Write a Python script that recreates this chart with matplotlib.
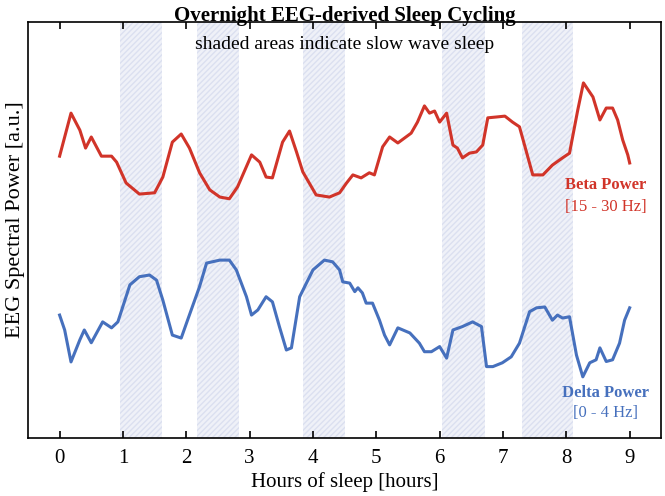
import numpy as np
import matplotlib.pyplot as plt

plt.rcParams["font.family"] = ["Liberation Serif", "DejaVu Serif"]

#
# Data (hours, arbitrary units)
#
beta_hours = [0.00, 0.18, 0.32, 0.41, 0.50, 0.66, 0.82, 0.90, 1.05, 1.26, 1.50, 1.63,
              1.78, 1.92, 2.05, 2.21, 2.37, 2.53, 2.68, 2.81, 3.03, 3.16, 3.26, 3.36,
              3.52, 3.63, 3.74, 3.84, 4.05, 4.26, 4.42, 4.53, 4.63, 4.76, 4.89, 4.97,
              5.10, 5.21, 5.34, 5.55, 5.65, 5.76, 5.84, 5.92, 6.00, 6.11, 6.21, 6.28,
              6.36, 6.47, 6.58, 6.68, 6.76, 6.90, 7.03, 7.15, 7.26, 7.37, 7.47, 7.63,
              7.78, 7.94, 8.05, 8.18, 8.27, 8.42, 8.53, 8.63, 8.73, 8.81, 8.89, 8.97, 9.00]
beta_power = [6.85, 7.86, 7.46, 7.04, 7.30, 6.85, 6.85, 6.71, 6.22, 5.96, 5.99, 6.36,
              7.18, 7.37, 7.04, 6.46, 6.06, 5.89, 5.85, 6.13, 6.88, 6.71, 6.36, 6.34,
              7.18, 7.44, 6.95, 6.48, 5.94, 5.89, 5.99, 6.22, 6.41, 6.34, 6.46, 6.41,
              7.07, 7.30, 7.16, 7.39, 7.65, 8.03, 7.86, 7.91, 7.65, 7.86, 7.11, 7.04,
              6.81, 6.92, 6.95, 7.11, 7.75, 7.77, 7.79, 7.65, 7.54, 6.95, 6.41, 6.41,
              6.64, 6.81, 6.92, 7.93, 8.57, 8.24, 7.70, 7.98, 7.98, 7.70, 7.23, 6.88, 6.69]

delta_hours = [0.00, 0.08, 0.18, 0.32, 0.39, 0.50, 0.68, 0.82, 0.92, 1.11, 1.26, 1.42,
               1.53, 1.63, 1.78, 1.92, 2.02, 2.21, 2.32, 2.53, 2.68, 2.79, 2.95, 3.03,
               3.13, 3.26, 3.36, 3.47, 3.58, 3.66, 3.79, 4.00, 4.18, 4.31, 4.42, 4.47,
               4.58, 4.66, 4.71, 4.78, 4.84, 4.94, 5.05, 5.13, 5.21, 5.34, 5.53, 5.68,
               5.76, 5.87, 6.00, 6.11, 6.21, 6.36, 6.52, 6.66, 6.74, 6.84, 6.99, 7.13,
               7.26, 7.42, 7.53, 7.66, 7.78, 7.86, 7.94, 8.05, 8.16, 8.26, 8.37, 8.47,
               8.53, 8.63, 8.73, 8.84, 8.92, 9.00]
delta_power = [3.12, 2.77, 2.02, 2.54, 2.77, 2.47, 2.96, 2.82, 2.96, 3.83, 4.02, 4.06,
               3.94, 3.47, 2.65, 2.58, 3.00, 3.79, 4.34, 4.41, 4.41, 4.18, 3.55, 3.12,
               3.24, 3.55, 3.43, 2.85, 2.30, 2.35, 3.55, 4.18, 4.41, 4.37, 4.18, 3.90,
               3.87, 3.67, 3.76, 3.64, 3.40, 3.40, 3.00, 2.65, 2.42, 2.82, 2.70, 2.46,
               2.26, 2.26, 2.38, 2.11, 2.77, 2.85, 2.96, 2.85, 1.91, 1.91, 2.00, 2.14,
               2.46, 3.20, 3.29, 3.31, 3.00, 3.12, 3.05, 3.08, 2.18, 1.67, 2.00, 2.07,
               2.35, 2.03, 2.07, 2.46, 3.00, 3.29]

# slow wave sleep periods (start, end) in hours
sws_start = [0.96, 2.17, 3.84, 6.04, 7.30]
sws_end = [1.61, 2.83, 4.51, 6.71, 8.10]

red = "#d13429"
blue = "#4670bd"

#
# Plot
#
fig = plt.figure(figsize=(6.65, 4.96), dpi=100)
ax = fig.add_axes([0.042, 0.117, 0.9525, 0.8387])

for s, e in zip(sws_start, sws_end):
    ax.axvspan(s, e, facecolor="#eff1f8", edgecolor="#dbe0f0", hatch="//////",
               linewidth=0, zorder=0)

ax.plot(beta_hours, beta_power, c=red, lw=2.2, zorder=3)
ax.plot(delta_hours, delta_power, c=blue, lw=2.2, zorder=3)

ax.text(8.62, 6.17, "Beta Power", color=red, fontsize=12, fontweight="bold",
        ha="center", va="center")
ax.text(8.62, 5.66, "[15 - 30 Hz]", color=red, fontsize=12, ha="center", va="center")
ax.text(8.62, 1.30, "Delta Power", color=blue, fontsize=12, fontweight="bold",
        ha="center", va="center")
ax.text(8.62, 0.82, "[0 - 4 Hz]", color=blue, fontsize=12, ha="center", va="center")

ax.text(0.5, 0.947, "shaded areas indicate slow wave sleep", transform=ax.transAxes,
        ha="center", va="center", fontsize=14)

ax.set_xlim(-0.5, 9.5)
ax.set_ylim(0.235, 10.0)
ax.set_xticks(range(10))
ax.set_yticks([])
ax.tick_params(axis="x", direction="in", top=True, length=5, width=1.2,
               labelsize=15, pad=8)
for sp in ax.spines.values():
    sp.set_linewidth(1.2)

ax.set_xlabel("Hours of sleep [hours]", fontsize=15, labelpad=3)
ax.set_ylabel("EEG Spectral Power [a.u.]", fontsize=16)
ax.yaxis.set_label_coords(-0.005, 0.525)
ax.set_title("Overnight EEG-derived Sleep Cycling", fontsize=15, fontweight="bold", pad=1)

fig.savefig("out.png", dpi=100)
